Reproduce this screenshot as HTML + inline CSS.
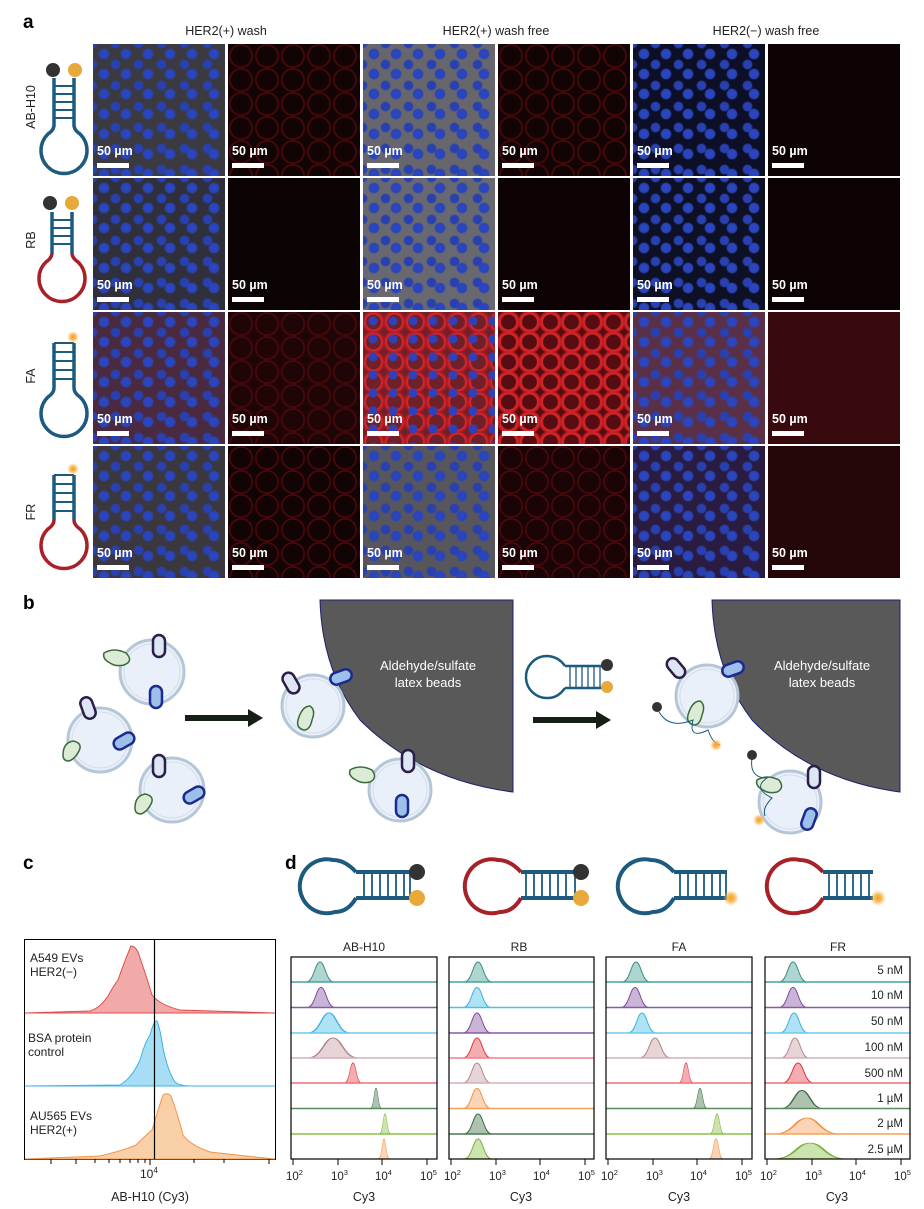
<!DOCTYPE html>
<html><head><meta charset="utf-8">
<style>
body{margin:0;width:924px;height:1209px;background:#fff;position:relative;overflow:hidden;font-family:"Liberation Sans",sans-serif;color:#222}
.a{position:absolute}
.lbl{position:absolute;font-weight:bold;font-size:19px;color:#000}
.hd{position:absolute;font-size:12.5px;text-align:center;width:270px}
.im{position:absolute;width:132px;height:132px;overflow:hidden}
.m{background:radial-gradient(circle at 50% 50%,#2c46c4 0,#2a44b8 4.5px,transparent 6px) 0 0/22px 20px,radial-gradient(circle at 50% 50%,#2840b0 0,#2840b0 4px,transparent 5.5px) 11px 10px/23px 21px,#47474e}
.r{background:radial-gradient(circle at 50% 50%,transparent 10px,#4a080c 10.5px,#4a080c 11.5px,transparent 12.5px) 0 0/26px 24px,#120304}
.sb{position:absolute;left:4px;top:100px;color:#fff;font-weight:bold;font-size:12.5px}
.sb:after{content:"";position:absolute;left:0;top:19px;width:32px;height:5px;background:#fff}
.rl{position:absolute;font-size:12.5px;transform:rotate(-90deg);transform-origin:center;width:80px;text-align:center}
</style></head><body>
<div class="lbl" style="left:23px;top:12px">a</div>
<div class="hd" style="left:91px;top:24px">HER2(+) wash</div>
<div class="hd" style="left:361px;top:24px">HER2(+) wash free</div>
<div class="hd" style="left:631px;top:24px">HER2(−) wash free</div>

<!-- row 1 -->
<div class="im m" style="left:93px;top:44px;background-color:#3a3a40"><div class="sb">50 µm</div></div>
<div class="im r" style="left:228px;top:44px"><div class="sb">50 µm</div></div>
<div class="im m" style="left:363px;top:44px;background-color:#66666c"><div class="sb">50 µm</div></div>
<div class="im r" style="left:498px;top:44px"><div class="sb">50 µm</div></div>
<div class="im m" style="left:633px;top:44px;background-color:#0c0f26"><div class="sb">50 µm</div></div>
<div class="im" style="left:768px;top:44px;background:#0e0304"><div class="sb">50 µm</div></div>
<!-- row 2 -->
<div class="im m" style="left:93px;top:178px;background-color:#30303c"><div class="sb">50 µm</div></div>
<div class="im" style="left:228px;top:178px;background:#0c0304"><div class="sb">50 µm</div></div>
<div class="im m" style="left:363px;top:178px;background-color:#686870"><div class="sb">50 µm</div></div>
<div class="im" style="left:498px;top:178px;background:#0e0304"><div class="sb">50 µm</div></div>
<div class="im m" style="left:633px;top:178px;background-color:#0e1026"><div class="sb">50 µm</div></div>
<div class="im" style="left:768px;top:178px;background:#0c0203"><div class="sb">50 µm</div></div>
<!-- row 3 -->
<div class="im m" style="left:93px;top:312px;background-color:#4a2a40"><div class="sb">50 µm</div></div>
<div class="im r" style="left:228px;top:312px;background-color:#200507"><div class="sb">50 µm</div></div>
<div class="im" style="left:363px;top:312px;background:radial-gradient(circle,#3040b8 0,#3040b8 4px,transparent 5px) 0 0/20px 18px,radial-gradient(circle,transparent 7px,#d82a30 8px,#b81a20 10px,transparent 12px) 0 0/21px 20px,#702028"><div class="sb">50 µm</div></div>
<div class="im" style="left:498px;top:312px;background:radial-gradient(circle,transparent 7px,#d8282c 8px,#c01c20 10.5px,transparent 12px) 0 0/21px 20px,#560c10"><div class="sb">50 µm</div></div>
<div class="im m" style="left:633px;top:312px;background-color:#5a3048"><div class="sb">50 µm</div></div>
<div class="im" style="left:768px;top:312px;background:#380a0e"><div class="sb">50 µm</div></div>
<!-- row 4 -->
<div class="im m" style="left:93px;top:446px;background-color:#3a383e"><div class="sb">50 µm</div></div>
<div class="im r" style="left:228px;top:446px"><div class="sb">50 µm</div></div>
<div class="im m" style="left:363px;top:446px;background-color:#56565c"><div class="sb">50 µm</div></div>
<div class="im r" style="left:498px;top:446px;background-color:#1a0406"><div class="sb">50 µm</div></div>
<div class="im m" style="left:633px;top:446px;background-color:#2a1c40"><div class="sb">50 µm</div></div>
<div class="im" style="left:768px;top:446px;background:#240608"><div class="sb">50 µm</div></div>

<div class="rl" style="left:-9px;top:100px">AB-H10</div>
<div class="rl" style="left:-9px;top:233px">RB</div>
<div class="rl" style="left:-9px;top:369px">FA</div>
<div class="rl" style="left:-9px;top:505px">FR</div>

<svg class="a" style="left:0;top:0" width="924" height="1209">
<defs>
<radialGradient id="glow"><stop offset="0" stop-color="#f0a020"/><stop offset="0.5" stop-color="#f5b040" stop-opacity=".8"/><stop offset="1" stop-color="#f8c060" stop-opacity="0"/></radialGradient>
<path id="pk" d="M-14,0 C-6,0 -5,-20 0,-20 C5,-20 6,0 14,0 Z" stroke-width="1"/>
</defs>
<!-- panel a hairpins -->
<g fill="none" stroke-width="3.5">
 <g stroke="#1c5a80"><line x1="54" y1="78" x2="54" y2="125"/><line x1="74" y1="78" x2="74" y2="125"/><path d="M54,125 Q54,130 48,134 A23,23 0 1 0 80,134 Q74,130 74,125"/></g>
 <g stroke="#1c5a80" stroke-width="2"><line x1="54" y1="86" x2="74" y2="86"/><line x1="54" y1="94" x2="74" y2="94"/><line x1="54" y1="102" x2="74" y2="102"/><line x1="54" y1="110" x2="74" y2="110"/><line x1="54" y1="118" x2="74" y2="118"/></g>
 <g stroke="#1c5a80"><line x1="52" y1="212" x2="52" y2="253"/><line x1="72" y1="212" x2="72" y2="253"/></g>
 <path d="M52,253 Q52,258 46,262 A23,23 0 1 0 78,262 Q72,258 72,253" stroke="#a82028"/>
 <g stroke="#1c5a80" stroke-width="2"><line x1="52" y1="220" x2="72" y2="220"/><line x1="52" y1="228" x2="72" y2="228"/><line x1="52" y1="236" x2="72" y2="236"/><line x1="52" y1="244" x2="72" y2="244"/></g>
 <g stroke="#1c5a80"><line x1="54" y1="343" x2="54" y2="388"/><line x1="74" y1="343" x2="74" y2="388"/><path d="M54,388 Q54,393 48,397 A23,23 0 1 0 80,397 Q74,393 74,388"/></g>
 <g stroke="#1c5a80" stroke-width="2"><line x1="54" y1="343" x2="74" y2="343"/><line x1="54" y1="352" x2="74" y2="352"/><line x1="54" y1="361" x2="74" y2="361"/><line x1="54" y1="370" x2="74" y2="370"/><line x1="54" y1="379" x2="74" y2="379"/></g>
 <g stroke="#1c5a80"><line x1="54" y1="475" x2="54" y2="520"/><line x1="74" y1="475" x2="74" y2="520"/></g>
 <path d="M54,520 Q54,525 48,529 A23,23 0 1 0 80,529 Q74,525 74,520" stroke="#a82028"/>
 <g stroke="#1c5a80" stroke-width="2"><line x1="54" y1="475" x2="74" y2="475"/><line x1="54" y1="484" x2="74" y2="484"/><line x1="54" y1="493" x2="74" y2="493"/><line x1="54" y1="502" x2="74" y2="502"/><line x1="54" y1="511" x2="74" y2="511"/></g>
</g>
<circle cx="53" cy="70" r="7" fill="#333"/><circle cx="75" cy="70" r="7" fill="#e8a83a"/>
<circle cx="50" cy="203" r="7" fill="#333"/><circle cx="72" cy="203" r="7" fill="#e8a83a"/>
<circle cx="73" cy="337" r="6" fill="url(#glow)"/><circle cx="73" cy="469" r="6" fill="url(#glow)"/>

<!-- panel b -->
<text x="23" y="609" font-size="19" font-weight="bold" font-family="Liberation Sans">b</text>
<path d="M320,600 L513,600 L513,792 Q420,780 360,720 Q322,670 320,600 Z" fill="#595959" stroke="#1a2070"/>
<path d="M712,600 L900,600 L900,792 Q810,780 752,720 Q714,670 712,600 Z" fill="#595959" stroke="#1a2070"/>
<g fill="#fff" font-size="13" text-anchor="middle" font-family="Liberation Sans"><text x="428" y="670">Aldehyde/sulfate</text><text x="428" y="687">latex beads</text><text x="822" y="670">Aldehyde/sulfate</text><text x="822" y="687">latex beads</text></g>
<g fill="#152015"><rect x="185" y="715" width="65" height="6"/><path d="M248,709 L263,718 L248,727Z"/><rect x="533" y="717" width="65" height="6"/><path d="M596,711 L611,720 L596,729Z"/></g>
<g fill="#e9f0fa" stroke="#b5c6d6" stroke-width="3">
 <circle cx="152" cy="672" r="32"/><circle cx="100" cy="740" r="32"/><circle cx="172" cy="790" r="32"/>
 <circle cx="313" cy="706" r="31"/><circle cx="400" cy="790" r="31"/><circle cx="707" cy="696" r="31"/><circle cx="790" cy="802" r="31"/>
</g>
<g fill="none" stroke="#d2dde8" stroke-width="1">
 <circle cx="152" cy="672" r="28"/><circle cx="100" cy="740" r="28"/><circle cx="172" cy="790" r="28"/>
 <circle cx="313" cy="706" r="27"/><circle cx="400" cy="790" r="27"/><circle cx="707" cy="696" r="27"/><circle cx="790" cy="802" r="27"/>
</g>
<g fill="#dde6f2" stroke="#2a1e4a" stroke-width="2.5">
 <rect x="153" y="635" width="12" height="22" rx="6"/><rect x="82" y="697" width="12" height="22" rx="6" transform="rotate(-20 88 708)"/><rect x="153" y="755" width="12" height="22" rx="6"/><rect x="285" y="672" width="12" height="22" rx="6" transform="rotate(-30 291 683)"/><rect x="402" y="750" width="12" height="22" rx="6"/><rect x="670" y="657" width="12" height="22" rx="6" transform="rotate(-40 676 668)"/><rect x="808" y="766" width="12" height="22" rx="6"/>
</g>
<g fill="#9cc0ea" stroke="#1c2a90" stroke-width="2.5">
 <rect x="150" y="686" width="12" height="22" rx="6"/><rect x="118" y="730" width="12" height="22" rx="6" transform="rotate(60 124 741)"/><rect x="188" y="784" width="12" height="22" rx="6" transform="rotate(60 194 795)"/><rect x="335" y="666" width="12" height="22" rx="6" transform="rotate(70 341 677)"/><rect x="396" y="795" width="12" height="22" rx="6"/><rect x="727" y="658" width="12" height="22" rx="6" transform="rotate(70 733 669)"/><rect x="803" y="808" width="12" height="22" rx="6" transform="rotate(20 809 819)"/>
</g>
<g fill="#dcebd6" stroke="#3a6a3a" stroke-width="1.5">
 <path d="M104,653 q10,-6 22,0 q8,8 -2,12 q-8,2 -14,-2 q-8,-4 -6,-10z"/><path d="M63,755 q0,-12 10,-14 q10,2 6,10 q-4,8 -10,10 q-6,0 -6,-6z"/><path d="M135,808 q0,-12 10,-14 q10,2 6,10 q-4,8 -10,10 q-6,0 -6,-6z"/><path d="M298,720 q4,-14 12,-14 q6,4 2,14 q-2,10 -8,10 q-8,-2 -6,-10z"/><path d="M350,770 q10,-6 22,0 q6,8 -2,12 q-8,2 -14,-2 q-8,-4 -6,-10z"/><path d="M688,715 q4,-14 12,-14 q6,4 2,14 q-2,10 -8,10 q-8,-2 -6,-10z"/><path d="M757,780 q10,-6 22,0 q6,8 -2,12 q-8,2 -14,-2 q-8,-4 -6,-10z"/>
</g>
<g fill="none" stroke="#1c5a80" stroke-width="1"><path d="M658,710 q10,20 35,10 q-5,20 15,10 q5,14 12,15"/><path d="M752,758 q-3,20 15,20 q-15,10 5,20 q-10,10 -7,18"/></g>
<circle cx="657" cy="707" r="5" fill="#333"/><circle cx="716" cy="745" r="6" fill="url(#glow)"/><circle cx="752" cy="755" r="5" fill="#333"/><circle cx="759" cy="820" r="6" fill="url(#glow)"/>
<!-- hairpin b -->
<g fill="none" stroke="#1c5a80" stroke-width="2.5"><path d="M565,666 L602,666 M565,688 L602,688 M565,666 Q558,656 546,656 A21,21 0 1 0 548,698 Q558,698 565,688"/></g>
<g stroke="#1c5a80" stroke-width="1.3"><line x1="570" y1="666" x2="570" y2="688"/><line x1="576" y1="666" x2="576" y2="688"/><line x1="582" y1="666" x2="582" y2="688"/><line x1="588" y1="666" x2="588" y2="688"/><line x1="594" y1="666" x2="594" y2="688"/><line x1="600" y1="666" x2="600" y2="688"/></g>
<circle cx="607" cy="665" r="6" fill="#333"/><circle cx="607" cy="687" r="6" fill="#e8a83a"/>

<!-- panel c/d labels -->
<text x="23" y="869" font-size="19" font-weight="bold" font-family="Liberation Sans">c</text>
<text x="285" y="869" font-size="19" font-weight="bold" font-family="Liberation Sans">d</text>
<!-- d hairpins -->
<g fill="none" stroke-width="4">
 <g stroke="#1c5a80"><path d="M356,872 L411,872 M356,898 L411,898"/><path d="M356,872 Q345,860 333,860 A27,27 0 1 0 335,912 Q348,912 356,898"/><path d="M521,872 L576,872 M521,898 L576,898 M674,872 L727,872 M674,898 L727,898"/><path d="M674,872 Q663,860 651,860 A27,27 0 1 0 653,912 Q666,912 674,898"/><path d="M823,872 L873,872 M823,898 L873,898"/></g>
 <path d="M521,872 Q510,860 498,860 A27,27 0 1 0 500,912 Q513,912 521,898" stroke="#a82028"/>
 <path d="M823,872 Q812,860 800,860 A27,27 0 1 0 802,912 Q815,912 823,898" stroke="#a82028"/>
</g>
<g stroke="#1c5a80" stroke-width="1.8">
 <path d="M364,872v26M372,872v26M380,872v26M388,872v26M396,872v26M404,872v26M410,872v26"/>
 <path d="M526,872v26M534,872v26M542,872v26M550,872v26M558,872v26M566,872v26M575,872v26"/>
 <path d="M680,872v26M688,872v26M696,872v26M704,872v26M712,872v26M720,872v26M726,872v26"/>
 <path d="M829,872v26M837,872v26M845,872v26M853,872v26M861,872v26M869,872v26"/>
</g>
<circle cx="417" cy="872" r="8" fill="#333"/><circle cx="417" cy="898" r="8" fill="#e8a83a"/>
<circle cx="581" cy="872" r="8" fill="#333"/><circle cx="581" cy="898" r="8" fill="#e8a83a"/>
<circle cx="731" cy="898" r="8" fill="url(#glow)"/><circle cx="878" cy="898" r="8" fill="url(#glow)"/>

<!-- panel c plot -->
<rect x="24.5" y="939.5" width="251" height="220" fill="none" stroke="#000"/>
<path d="M25,1013 L90,1011 Q100,1008 108,996 Q114,985 118,980 Q125,960 131,946 Q135,946 138,952 Q146,975 152,995 Q160,1005 180,1010 L275,1013 Z" fill="#f2aaa8" stroke="#e24a4a"/>
<path d="M25,1086 L120,1085 Q132,1078 140,1060 Q145,1042 150,1035 Q154,1020 157,1021 Q160,1028 163,1048 Q168,1072 175,1082 Q180,1086 190,1086 L275,1086 Z" fill="#a8def5" stroke="#3bb4e6"/>
<path d="M25,1159 L100,1156 Q125,1150 136,1145 Q146,1135 152,1130 Q158,1110 163,1095 Q167,1092 171,1096 Q178,1115 183,1135 Q190,1145 210,1152 L255,1157 L275,1159 Z" fill="#f8cfa6" stroke="#f0944a"/>
<line x1="154.5" y1="939" x2="154.5" y2="1159" stroke="#000" stroke-width="1.2"/>
<g stroke="#000"><path d="M51,1159v5M76,1159v5M95,1159v4M109,1159v4M120,1159v4M130,1159v4M138,1159v4M145,1159v4M150,1159v6M194,1159v4M224,1159v4M269,1159v5"/></g>
<g font-family="Liberation Sans" font-size="12" fill="#222">
<text x="30" y="962">A549 EVs</text><text x="30" y="976">HER2(−)</text>
<text x="28" y="1042">BSA protein</text><text x="28" y="1056">control</text>
<text x="30" y="1120">AU565 EVs</text><text x="30" y="1134">HER2(+)</text>
<text x="140" y="1178" font-size="12">10<tspan dy="-5" font-size="8">4</tspan></text>
<text x="150" y="1201" text-anchor="middle" font-size="12.5">AB-H10 (Cy3)</text>
<text x="364" y="951" text-anchor="middle">AB-H10</text><text x="519" y="951" text-anchor="middle">RB</text><text x="679" y="951" text-anchor="middle">FA</text><text x="838" y="951" text-anchor="middle">FR</text>
</g>

<!-- panel d plots -->
<g fill-opacity="0.45" stroke-width="1">
<g>
<use href="#pk" transform="translate(320,982) scale(1,1)" fill="#4aa39a" stroke="#3a8a80"/>
<use href="#pk" transform="translate(321,1007.5) scale(1,1)" fill="#8a5aa8" stroke="#7a4a98"/>
<use href="#pk" transform="translate(329,1033) scale(1.5,1)" fill="#4cc0ea" stroke="#3ab0e0"/>
<use href="#pk" transform="translate(333,1058) scale(1.8,1)" fill="#c9a0a6" stroke="#b08890"/>
<use href="#pk" transform="translate(353,1083) scale(0.6,1)" fill="#e5484f" stroke="#e03840"/>
<use href="#pk" transform="translate(376,1108.5) scale(0.4,1)" fill="#4a7a4f" stroke="#3a6a3f"/>
<use href="#pk" transform="translate(385,1134) scale(0.4,1)" fill="#8cc04a" stroke="#7ab03a"/>
<use href="#pk" transform="translate(384,1159) scale(0.4,1)" fill="#f3a05a" stroke="#f09040"/>
</g>
<g>
<use href="#pk" transform="translate(478,982)" fill="#4aa39a" stroke="#3a8a80"/>
<use href="#pk" transform="translate(477,1007.5)" fill="#4cc0ea" stroke="#3ab0e0"/>
<use href="#pk" transform="translate(477,1033)" fill="#8a5aa8" stroke="#7a4a98"/>
<use href="#pk" transform="translate(477,1058)" fill="#e5484f" stroke="#e03840"/>
<use href="#pk" transform="translate(477,1083)" fill="#c9a0a6" stroke="#b08890"/>
<use href="#pk" transform="translate(477,1108.5)" fill="#f3a05a" stroke="#f09040"/>
<use href="#pk" transform="translate(478,1134)" fill="#4a7a4f" stroke="#3a6a3f"/>
<use href="#pk" transform="translate(478,1159)" fill="#8cc04a" stroke="#7ab03a"/>
</g>
<g>
<use href="#pk" transform="translate(636,982)" fill="#4aa39a" stroke="#3a8a80"/>
<use href="#pk" transform="translate(635,1007.5)" fill="#8a5aa8" stroke="#7a4a98"/>
<use href="#pk" transform="translate(642,1033)" fill="#4cc0ea" stroke="#3ab0e0"/>
<use href="#pk" transform="translate(655,1058) scale(1.1,1)" fill="#c9a0a6" stroke="#b08890"/>
<use href="#pk" transform="translate(686,1083) scale(0.5,1)" fill="#e5484f" stroke="#e03840"/>
<use href="#pk" transform="translate(700,1108.5) scale(0.5,1)" fill="#4a7a4f" stroke="#3a6a3f"/>
<use href="#pk" transform="translate(717,1134) scale(0.5,1)" fill="#8cc04a" stroke="#7ab03a"/>
<use href="#pk" transform="translate(716,1159) scale(0.5,1)" fill="#f3a05a" stroke="#f09040"/>
</g>
<g>
<use href="#pk" transform="translate(793,982)" fill="#4aa39a" stroke="#3a8a80"/>
<use href="#pk" transform="translate(793,1007.5)" fill="#8a5aa8" stroke="#7a4a98"/>
<use href="#pk" transform="translate(794,1033)" fill="#4cc0ea" stroke="#3ab0e0"/>
<use href="#pk" transform="translate(795,1058)" fill="#c9a0a6" stroke="#b08890"/>
<use href="#pk" transform="translate(798,1083) scale(1.1,1)" fill="#e5484f" stroke="#e03840"/>
<use href="#pk" transform="translate(802,1108.5) scale(1.5,0.9)" fill="#4a7a4f" stroke="#3a6a3f"/>
<use href="#pk" transform="translate(807,1134) scale(2.3,0.8)" fill="#f3a05a" stroke="#f09040"/>
<use href="#pk" transform="translate(810,1159) scale(2.6,0.8)" fill="#8cc04a" stroke="#7ab03a"/>
</g>
</g>
<g stroke-width="1.5">
<path d="M291,982H437M449,982H594M606,982H752M765,982H910" stroke="#4aa39a"/>
<path d="M291,1007.5H437M606,1007.5H752M765,1007.5H910" stroke="#8a5aa8"/><path d="M449,1007.5H594" stroke="#4cc0ea"/>
<path d="M291,1033H437M606,1033H752M765,1033H910" stroke="#6ccaf0"/><path d="M449,1033H594" stroke="#8a5aa8"/>
<path d="M291,1058H437M606,1058H752M765,1058H910" stroke="#d4b0b5"/><path d="M449,1058H594" stroke="#f08088"/>
<path d="M291,1083H437M606,1083H752M765,1083H910" stroke="#f07078"/><path d="M449,1083H594" stroke="#d4b0b5"/>
<path d="M291,1108.5H437M606,1108.5H752M765,1108.5H910" stroke="#5a8a5f"/><path d="M449,1108.5H594" stroke="#f3a05a"/>
<path d="M291,1134H437M606,1134H752" stroke="#8cc04a"/><path d="M449,1134H594" stroke="#4a7a4f"/><path d="M765,1134H910" stroke="#f3a05a"/>
</g>
<g fill="none" stroke="#000" stroke-width="1.2">
<rect x="291" y="957" width="146" height="202"/><rect x="449" y="957" width="145" height="202"/><rect x="606" y="957" width="146" height="202"/><rect x="765" y="957" width="145" height="202"/>
</g>
<g stroke="#000">
<path d="M293,1159v6M338,1159v6M382,1159v6M427,1159v6M451,1159v6M496,1159v6M540,1159v6M585,1159v6M608,1159v6M653,1159v6M697,1159v6M742,1159v6M767,1159v6M812,1159v6M856,1159v6M901,1159v6"/>
</g>
<g font-family="Liberation Sans" font-size="11.5" fill="#222">
<text x="286" y="1180">10<tspan dy="-5" font-size="7.5">2</tspan></text><text x="331" y="1180">10<tspan dy="-5" font-size="7.5">3</tspan></text><text x="375" y="1180">10<tspan dy="-5" font-size="7.5">4</tspan></text><text x="420" y="1180">10<tspan dy="-5" font-size="7.5">5</tspan></text>
<text x="444" y="1180">10<tspan dy="-5" font-size="7.5">2</tspan></text><text x="489" y="1180">10<tspan dy="-5" font-size="7.5">3</tspan></text><text x="533" y="1180">10<tspan dy="-5" font-size="7.5">4</tspan></text><text x="578" y="1180">10<tspan dy="-5" font-size="7.5">5</tspan></text>
<text x="601" y="1180">10<tspan dy="-5" font-size="7.5">2</tspan></text><text x="646" y="1180">10<tspan dy="-5" font-size="7.5">3</tspan></text><text x="690" y="1180">10<tspan dy="-5" font-size="7.5">4</tspan></text><text x="735" y="1180">10<tspan dy="-5" font-size="7.5">5</tspan></text>
<text x="760" y="1180">10<tspan dy="-5" font-size="7.5">2</tspan></text><text x="805" y="1180">10<tspan dy="-5" font-size="7.5">3</tspan></text><text x="849" y="1180">10<tspan dy="-5" font-size="7.5">4</tspan></text><text x="894" y="1180">10<tspan dy="-5" font-size="7.5">5</tspan></text>
<text x="364" y="1201" text-anchor="middle" font-size="12.5">Cy3</text><text x="521" y="1201" text-anchor="middle" font-size="12.5">Cy3</text><text x="679" y="1201" text-anchor="middle" font-size="12.5">Cy3</text><text x="837" y="1201" text-anchor="middle" font-size="12.5">Cy3</text>
<g text-anchor="end" font-size="11.5">
<text x="903" y="974">5 nM</text><text x="903" y="999">10 nM</text><text x="903" y="1025">50 nM</text><text x="903" y="1051">100 nM</text><text x="903" y="1077">500 nM</text><text x="903" y="1102">1 µM</text><text x="903" y="1127">2 µM</text><text x="903" y="1153">2.5 µM</text>
</g>
</g>
</svg>
</body></html>
